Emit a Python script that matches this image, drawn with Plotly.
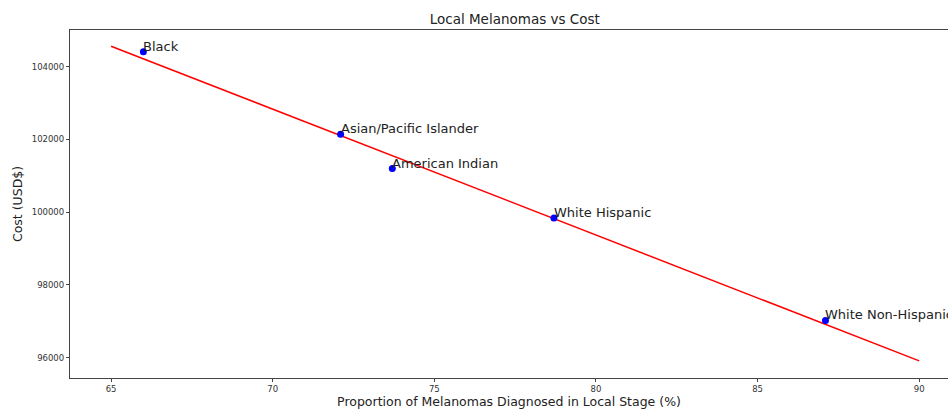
import numpy as np
import plotly.graph_objects as go

# Proportion of melanomas diagnosed at local stage (%) and cost (USD) by group
groups = ["Black", "Asian/Pacific Islander", "American Indian", "White Hispanic", "White Non-Hispanic"]
local_pct = [66.0, 72.1, 73.7, 78.7, 87.1]
cost_usd = [104410, 102140, 101200, 99840, 97020]

# Least-squares trend line evaluated across the fitted span
fit_x = [65, 90]
slope, intercept = np.polyfit(local_pct, cost_usd, 1)
fit_y = [slope * x + intercept for x in fit_x]

x_ticks = [65, 70, 75, 80, 85, 90]
y_ticks = [96000, 98000, 100000, 102000, 104000]

font = "DejaVu Sans, sans-serif"

fig = go.Figure()
fig.add_trace(go.Scatter(x=fit_x, y=fit_y, mode="lines",
                         line=dict(color="#ff0000", width=1.5), hoverinfo="skip"))
fig.add_trace(go.Scatter(x=local_pct, y=cost_usd, mode="markers",
                         marker=dict(color="#0000ff", size=7), text=groups))

for g, x, y in zip(groups, local_pct, cost_usd):
    fig.add_annotation(x=x, y=y, text=g, showarrow=False, xanchor="left", yanchor="bottom",
                       xshift=-2, yshift=-4, font=dict(family=font, size=13, color="#222"))

fig.update_layout(
    width=948, height=409,
    margin=dict(l=70, r=0, t=30, b=31),
    plot_bgcolor="white", paper_bgcolor="white",
    showlegend=False,
    title=dict(text="Local Melanomas vs Cost", x=0.543, xanchor="center", y=0.953, yanchor="middle",
               font=dict(family=font, size=13.5, color="#222")),
)
fig.update_xaxes(
    range=[63.73, 90.89], tickvals=x_ticks, ticktext=[str(v) for v in x_ticks],
    showgrid=False, zeroline=False, showline=True, linecolor="#444", linewidth=1.2, mirror=True,
    ticks="outside", ticklen=3, tickcolor="#444", tickfont=dict(family=font, size=8.5, color="#333"),
    title=dict(text="Proportion of Melanomas Diagnosed in Local Stage (%)", standoff=4,
               font=dict(family=font, size=12.5, color="#222")),
)
fig.update_yaxes(
    range=[95438, 105010], tickvals=y_ticks, ticktext=[str(v) for v in y_ticks],
    showgrid=False, zeroline=False, showline=True, linecolor="#444", linewidth=1.2,
    ticks="outside", ticklen=3, tickcolor="#444", tickfont=dict(family=font, size=8.5, color="#333"),
    title=dict(text="Cost (USD$)", standoff=6, font=dict(family=font, size=12.5, color="#222")),
)

fig.write_html("out.html")
